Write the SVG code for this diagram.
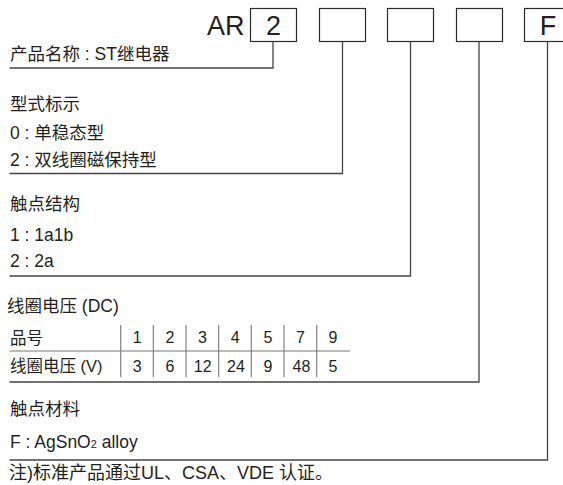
<svg xmlns="http://www.w3.org/2000/svg" width="563" height="485" viewBox="0 0 563 485">
<style>
text{font-family:"Liberation Sans","Noto Sans CJK SC",sans-serif;fill:#231f20;font-size:17.5px}
.big{font-size:27px}
.tbh{font-size:16.5px}
.tb{font-size:16px;text-anchor:middle}
.note{font-size:18px}
.box{fill:#fff;stroke:#2b2b2b;stroke-width:1.2}
.conn{fill:none;stroke:#444;stroke-width:1.3}
.tl{stroke:#777;stroke-width:1.1}
</style>
<rect width="563" height="485" fill="#fff"/>
<g id="connectors">
<path class="conn" d="M273,41.5 V68 H9.5"/>
<path class="conn" d="M342.5,41.5 V173.5 H9.5"/>
<path class="conn" d="M410.5,41.5 V276 H9.5"/>
<path class="conn" d="M479,41.5 V382 H9.5"/>
<path class="conn" d="M547.5,41.5 V460 H9.5"/>
</g>
<g id="code">
<text class="big" x="244.5" y="35" text-anchor="end">AR</text>
<g id="box1"><rect class="box" x="250.5" y="8.5" width="46" height="33"/><text class="big" x="273.5" y="35" text-anchor="middle">2</text></g>
<g id="box2"><rect class="box" x="319.5" y="8.5" width="46" height="33"/></g>
<g id="box3"><rect class="box" x="387.5" y="8.5" width="46" height="33"/></g>
<g id="box4"><rect class="box" x="456.5" y="8.5" width="46" height="33"/></g>
<g id="box5"><rect class="box" x="524.5" y="8.5" width="46" height="33"/><text class="big" x="548" y="35" text-anchor="middle">F</text></g>
</g>
<g id="name"><text x="10" y="60">产品名称 : ST继电器</text></g>
<g id="type">
<text x="10" y="110">型式标示</text>
<text x="10" y="139">0 : 单稳态型</text>
<text x="10" y="166">2 : 双线圈磁保持型</text>
</g>
<g id="contact">
<text x="10" y="210">触点结构</text>
<text x="10" y="240.5">1 : 1a1b</text>
<text x="10" y="266.5">2 : 2a</text>
</g>
<g id="coil">
<text x="7" y="312">线圈电压 (DC)</text>
<text class="tbh" x="10" y="344">品号</text>
<text class="tbh" x="10" y="371.5">线圈电压 (V)</text>
<line class="tl" x1="9.5" y1="351" x2="350" y2="351"/>
<g class="tl">
<line x1="120.7" y1="325" x2="120.7" y2="377"/>
<line x1="153.3" y1="325" x2="153.3" y2="377"/>
<line x1="186" y1="325" x2="186" y2="377"/>
<line x1="218.7" y1="325" x2="218.7" y2="377"/>
<line x1="251.3" y1="325" x2="251.3" y2="377"/>
<line x1="284" y1="325" x2="284" y2="377"/>
<line x1="316.7" y1="325" x2="316.7" y2="377"/>
</g>
<text class="tb" x="137.3" y="343.3">1</text>
<text class="tb" x="170" y="343.3">2</text>
<text class="tb" x="202.5" y="343.3">3</text>
<text class="tb" x="235.3" y="343.3">4</text>
<text class="tb" x="268" y="343.3">5</text>
<text class="tb" x="300.5" y="343.3">7</text>
<text class="tb" x="333" y="343.3">9</text>
<text class="tb" x="137.3" y="371.5">3</text>
<text class="tb" x="170" y="371.5">6</text>
<text class="tb" x="202.7" y="371.5">12</text>
<text class="tb" x="236" y="371.5">24</text>
<text class="tb" x="268" y="371.5">9</text>
<text class="tb" x="301.5" y="371.5">48</text>
<text class="tb" x="333" y="371.5">5</text>
</g>
<g id="material">
<text x="10" y="415">触点材料</text>
<text x="10" y="448">F : AgSnO<tspan font-size="11">2</tspan> alloy</text>
</g>
<g id="note"><text class="note" x="9" y="479">注)标准产品通过UL、CSA、VDE 认证。</text></g>
</svg>
